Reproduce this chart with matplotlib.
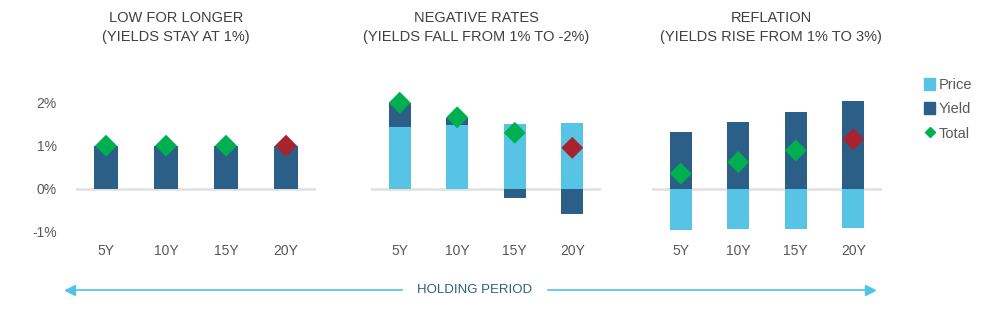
import numpy as np
import matplotlib.pyplot as plt
from matplotlib.lines import Line2D
from matplotlib.patches import Patch

plt.rcParams['font.family'] = ['Liberation Sans', 'DejaVu Sans']

periods = ['5Y', '10Y', '15Y', '20Y']
titles = ['LOW FOR LONGER\n(YIELDS STAY AT 1%)',
          'NEGATIVE RATES\n(YIELDS FALL FROM 1% TO -2%)',
          'REFLATION\n(YIELDS RISE FROM 1% TO 3%)']

# returns in %
price = [
    [0.0, 0.0, 0.0, 0.0],
    [1.44, 1.47, 1.51, 1.53],
    [-0.95, -0.94, -0.93, -0.91],
]
yld = [
    [1.0, 1.0, 1.0, 1.0],
    [0.55, 0.18, -0.21, -0.58],
    [1.31, 1.55, 1.79, 2.05],
]
total = [
    [1.0, 1.0, 1.0, 1.0],
    [2.0, 1.66, 1.30, 0.95],
    [0.35, 0.62, 0.89, 1.15],
]

c_price = '#57C4E5'
c_yield = '#2C5F87'
c_green = '#00B050'
c_red = '#A8232F'
c_text = '#595959'

fig = plt.figure(figsize=(10.07, 3.22), dpi=100)

lefts = [0.0755, 0.3684, 0.6475]
widths = [0.2383, 0.2284, 0.2284]
title_x = [176 / 1007, 476 / 1007, 771 / 1007]
bottom, height = 0.2671, 0.4674

x = np.arange(len(periods))
w = 0.39
for i in range(3):
    ax = fig.add_axes([lefts[i], bottom, widths[i], height])
    p = np.array(price[i])
    y = np.array(yld[i])
    ax.bar(x, p, width=w, color=c_price, zorder=2)
    ybot = np.where(np.sign(y) == np.sign(p), p, 0)
    ax.bar(x, y, width=w, bottom=ybot, color=c_yield, zorder=2)
    ax.axhline(0, color='#E0E0E0', lw=1.8, zorder=1)
    cols = [c_green] * 3 + [c_red]
    ax.scatter(x, total[i], marker='D', s=125, c=cols, zorder=3, linewidths=0)
    ax.set_xlim(-0.5, 3.5)
    ax.set_ylim(-1.1, 2.4)
    ax.set_xticks(x)
    ax.set_xticklabels(periods, color=c_text, fontsize=10)
    ax.tick_params(length=0, pad=6)
    for s in ax.spines.values():
        s.set_visible(False)
    if i == 0:
        ax.set_yticks([-1, 0, 1, 2])
        ax.set_yticklabels(['-1%', '0%', '1%', '2%'], color=c_text, fontsize=10)
        ax.tick_params(axis='y', pad=14)
    else:
        ax.set_yticks([])
    fig.text(title_x[i], 0.915, titles[i], ha='center', va='center', fontsize=10.5,
             color='#404040', linespacing=1.45)

handles = [Patch(color=c_price, label='Price'),
           Patch(color=c_yield, label='Yield'),
           Line2D([], [], marker='D', color=c_green, ls='', markersize=5, label='Total')]
leg = fig.legend(handles=handles, loc='upper left', bbox_to_anchor=(0.905, 0.80),
                 frameon=False, handlelength=0.7, handleheight=0.9, handletextpad=0.3,
                 labelspacing=0.72, fontsize=10.5)
for t in leg.get_texts():
    t.set_color(c_text)

# holding period arrow
ya = 1 - 290 / 322
c_arrow = '#4FC3E8'
fig.add_artist(plt.Line2D([67 / 1007, 402 / 1007], [ya, ya], color=c_arrow, lw=1.2))
fig.add_artist(plt.Line2D([548 / 1007, 873 / 1007], [ya, ya], color=c_arrow, lw=1.2))
fig.add_artist(plt.Line2D([70 / 1007], [ya], marker='<', color=c_arrow, markersize=7, ls=''))
fig.add_artist(plt.Line2D([870 / 1007], [ya], marker='>', color=c_arrow, markersize=7, ls=''))
fig.text(475 / 1007, ya, 'HOLDING PERIOD', ha='center', va='center',
         fontsize=9.5, color=c_yield)

fig.savefig('out.png', dpi=100)
